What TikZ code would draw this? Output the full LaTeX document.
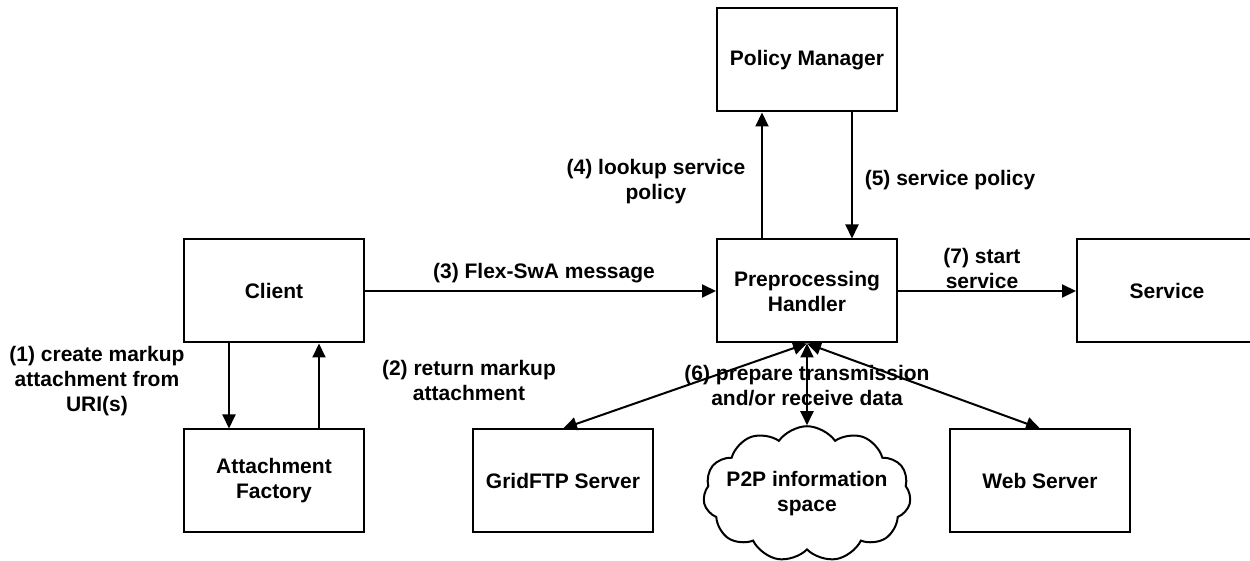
\documentclass[tikz,border=0pt]{standalone}
\usepackage{fontspec}
\setmainfont{Liberation Sans}
\usetikzlibrary{arrows.meta,shapes.symbols}
\tikzset{every node/.style={font=\bfseries\fontsize{10.5}{12.5}\selectfont},
  box/.style={draw, minimum width=90pt, minimum height=51.5pt, align=center},
  puff/.style={draw, cloud, cloud puffs=11, cloud puff arc=110, aspect=1.8,
    align=center, inner xsep=-5pt, inner ysep=-10pt},
  lbl/.style={align=center, inner sep=0pt}}

\begin{document}
\begin{tikzpicture}[x=0.5pt, y=-0.5pt, line width=1pt, >={Triangle[length=7pt,width=6.5pt]}]
   \useasboundingbox (0,0) rectangle (1250,561);
   \node[box] (policy)    at ( 807,  60) {Policy Manager};
   \node[box] (handler)   at ( 807, 291) {Preprocessing\\Handler};
   \node[box] (client)    at ( 274, 291) {Client};
   \node[box] (service)   at (1167, 291) {Service};
   \node[box] (factory)   at ( 274, 481) {Attachment\\Factory};
   \node[box] (gridftp)   at ( 563, 481) {GridFTP Server};
   \node[box] (webserver) at (1040, 481) {Web Server};
   \node[puff] (p2p)      at ( 807, 494) {P2P information\\space};
   \draw[->] ([xshift=-22.5pt]client.south)  -- ([xshift=-22.5pt]factory.north);
   \draw[->] ([xshift= 22.5pt]factory.north) -- ([xshift= 22.5pt]client.south);
   \draw[->] ([xshift=-22.5pt]handler.north) -- ([xshift=-22.5pt]policy.south);
   \draw[->] ([xshift= 22.5pt]policy.south)  -- ([xshift= 22.5pt]handler.north);
   \draw[->] (client.east)  -- (handler.west);
   \draw[->] (handler.east) -- (service.west);
   \draw[<->] (handler.south) -- (gridftp.north);
   \draw[<->] (handler.south) -- (p2p.north);
   \draw[<->] (handler.south) -- (webserver.north);
   \node[lbl] (lbl1) at ( 97, 381) {(1) create markup\\attachment from\\URI(s)};
   \node[lbl] (lbl2) at (469, 380) {(2) return markup\\attachment};
   \node[lbl] (lbl3) at (544, 273) {(3) Flex-SwA message};
   \node[lbl] (lbl4) at (656, 182) {(4) lookup service\\policy};
   \node[lbl] (lbl5) at (950, 180) {(5) service policy};
   \node[lbl] (lbl6) at (807, 386) {(6) prepare transmission\\and/or receive data};
   \node[lbl] (lbl7) at (982, 268) {(7) start\\service};
\end{tikzpicture}
\end{document}
